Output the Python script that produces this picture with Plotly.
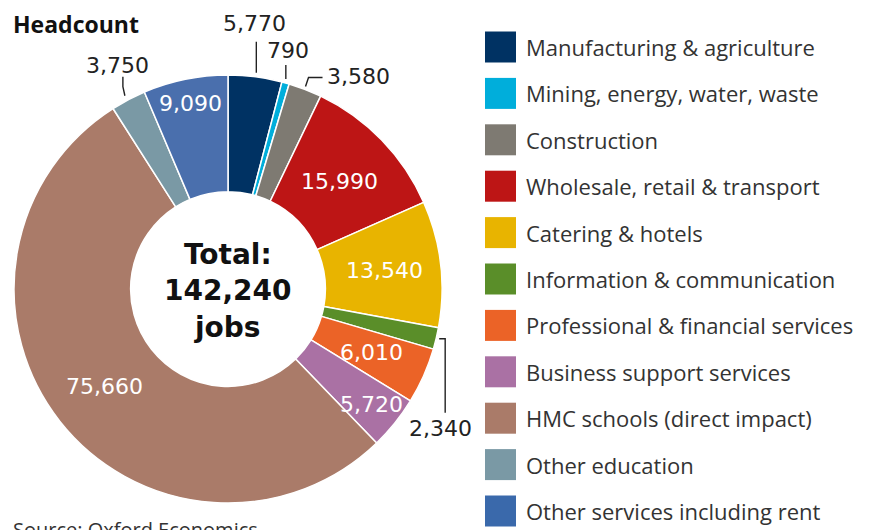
import math
import plotly.graph_objects as go

# Headcount by sector
sectors = [
    "Manufacturing & agriculture",
    "Mining, energy, water, waste",
    "Construction",
    "Wholesale, retail & transport",
    "Catering & hotels",
    "Information & communication",
    "Professional & financial services",
    "Business support services",
    "HMC schools (direct impact)",
    "Other education",
    "Other services including rent",
]
jobs = [5770, 790, 3580, 15990, 13540, 2340, 6010, 5720, 75660, 3750, 9090]
colors = [
    "#003263", "#00AEDB", "#7E7A72", "#BD1515", "#E8B400", "#5A8E29",
    "#EB6327", "#AA71A4", "#AA7B69", "#7A99A5", "#4A6FAD",
]
legend_colors = colors[:-1] + ["#3A69AB"]

W, H = 872, 530
CX, CY, R = 228, 289, 214          # donut centre and outer radius, px
HOLE = 0.455
TEXT_FONT = "Open Sans"
NUM_FONT = "DejaVu Sans"


def px(x):
    return x / W


def py(y):
    return 1 - y / H


# label placement: inside labels sit at a radius (px); outside labels sit at an
# offset from the slice's outer edge, joined to it by a leader polyline (px offsets)
inside_radius = {3: 155, 4: 158, 6: 157, 7: 184, 8: 157, 10: 189}
outside_offset = {0: (-1, -52), 1: (2, -31), 2: (53, -12), 5: (3, 90), 9: (-10, -33)}
leader_path = {
    0: [(1, -3), (1, -34)],
    1: [(0, -3), (0, -17)],
    2: [(0, -2), (3, -11), (17, -11)],
    5: [(2, 0), (8, 0), (8, 74)],
    9: [(-3, -3), (-5, -12), (-5, -22)],
}

fig = go.Figure(
    go.Pie(
        labels=sectors,
        values=jobs,
        sort=False,
        direction="clockwise",
        rotation=0,
        hole=HOLE,
        marker=dict(colors=colors, line=dict(color="white", width=1.5)),
        textinfo="none",
        hoverinfo="label+value",
        showlegend=False,
        domain=dict(x=[px(CX - R), px(CX + R)], y=[py(CY + R), py(CY - R)]),
    )
)

total = sum(jobs)
annotations = []
shapes = []
cum = 0
for i, v in enumerate(jobs):
    mid = (cum + v / 2) / total * 2 * math.pi
    cum += v
    label = f"{v:,}"
    if i in inside_radius:
        r = inside_radius[i]
        annotations.append(dict(
            x=px(CX + r * math.sin(mid)), y=py(CY - r * math.cos(mid)),
            xref="paper", yref="paper", xanchor="center", yanchor="middle",
            text=label, showarrow=False,
            font=dict(family=NUM_FONT, size=22, color="white"),
        ))
    else:
        ex = CX + (R + 1) * math.sin(mid)
        ey = CY - (R + 1) * math.cos(mid)
        ax, ay = outside_offset[i]
        annotations.append(dict(
            x=px(ex + ax), y=py(ey + ay),
            xref="paper", yref="paper", xanchor="center", yanchor="middle",
            text=label, showarrow=False,
            font=dict(family=NUM_FONT, size=22, color="#222"),
        ))
        pts = leader_path[i]
        path = "M " + " L ".join(
            f"{px(ex + dx):.5f},{py(ey + dy):.5f}" for dx, dy in pts
        )
        shapes.append(dict(
            type="path", xref="paper", yref="paper", path=path,
            line=dict(color="#222", width=1.4),
        ))

# centre total
annotations.append(dict(
    x=px(CX), y=py(CY + 2), xref="paper", yref="paper",
    xanchor="center", yanchor="middle", showarrow=False,
    text=f"<b>Total:<br>{total:,}<br>jobs</b>",
    font=dict(family=NUM_FONT, size=28, color="#111"),
))

# title and source
annotations.append(dict(
    x=px(11), y=py(24), xref="paper", yref="paper", xanchor="left",
    yanchor="middle", showarrow=False, text="<b>Headcount</b>",
    font=dict(family=TEXT_FONT, size=23, color="#111"),
))
annotations.append(dict(
    x=px(11), y=py(514), xref="paper", yref="paper", xanchor="left",
    yanchor="top", showarrow=False, text="Source: Oxford Economics",
    font=dict(family=TEXT_FONT, size=20, color="#333"),
))

# legend: coloured squares with sector names
LEG_X, LEG_Y0, LEG_STEP, SQ = 485, 47, 46.4, 31
for i, name in enumerate(sectors):
    yc = LEG_Y0 + i * LEG_STEP
    shapes.append(dict(
        type="rect", xref="paper", yref="paper",
        x0=px(LEG_X), x1=px(LEG_X + SQ), y0=py(yc + SQ / 2), y1=py(yc - SQ / 2),
        fillcolor=legend_colors[i], line=dict(width=0),
    ))
    annotations.append(dict(
        x=px(LEG_X + SQ + 8), y=py(yc), xref="paper", yref="paper",
        xanchor="left", yanchor="middle", showarrow=False, text=name,
        font=dict(family=TEXT_FONT, size=22, color="#333"),
    ))

fig.update_layout(
    width=W, height=H,
    margin=dict(l=0, r=0, t=0, b=0),
    paper_bgcolor="white", plot_bgcolor="white",
    annotations=annotations, shapes=shapes,
)

fig.write_html("out.html")
